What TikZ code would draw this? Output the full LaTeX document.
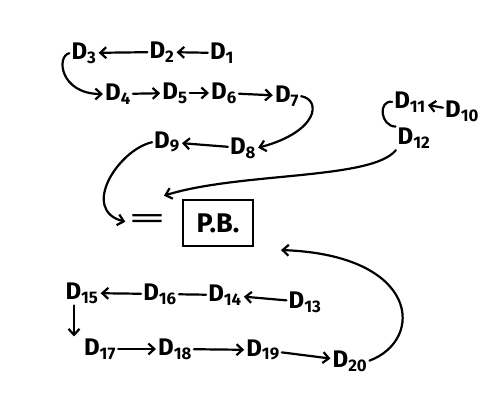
\documentclass[tikz,border=0pt]{standalone}
\usepackage{fontspec}
\setmainfont{Fira Sans}
\usetikzlibrary{arrows.meta}
\newcommand\DD[1]{D\textsubscript{#1}}
\begin{document}
\begin{tikzpicture}[x=1pt,y=-1pt,
 lab/.style={font=\fontsize{24}{24}\selectfont\bfseries, inner sep=1pt},
 arr/.style={line width=2.2pt, line cap=round, shorten >=1pt, shorten <=1pt, -{Straight Barb[length=6pt,width=11pt]}},
 ln/.style={line width=2.2pt, line cap=round, shorten >=1pt, shorten <=1pt},
 box/.style={draw, line width=2.6pt, minimum width=70pt, minimum height=46pt, inner sep=2pt, font=\fontsize{27}{27}\selectfont\bfseries}]
\useasboundingbox (0,0) rectangle (482,406);
% top group
\node[lab] (d3) at (84,53) {\DD{3}};
\node[lab] (d2) at (162,52) {\DD{2}};
\node[lab] (d1) at (222,53) {\DD{1}};
\node[lab] (d4) at (118,94) {\DD{4}};
\node[lab] (d5) at (175,93) {\DD{5}};
\node[lab] (d6) at (224,93) {\DD{6}};
\node[lab] (d7) at (287,96) {\DD{7}};
\node[lab] (d9) at (167,142) {\DD{9}};
\node[lab] (d8) at (243,148) {\DD{8}};
% right group
\node[lab] (d11) at (410,102) {\DD{11}};
\node[lab] (d10) at (462,111) {\DD{10}};
\node[lab] (d12) at (414,138) {\DD{12}};
% centre
\node[font=\fontsize{30}{30}\selectfont, inner sep=1pt] (eq) at (147,222) {\scalebox{2.6}[1]{=}};
\node[box] (pb) at (218,223) {P.B.};
\coordinate (t1) at (163,196);
\coordinate (t2) at (280,250);
% bottom group
\node[lab] (d15) at (82,293) {\DD{15}};
\node[lab] (d16) at (160,294) {\DD{16}};
\node[lab] (d14) at (225,295) {\DD{14}};
\node[lab] (d13) at (305,302) {\DD{13}};
\node[lab] (d17) at (100,349) {\DD{17}};
\node[lab] (d18) at (175,349) {\DD{18}};
\node[lab] (d19) at (263,350) {\DD{19}};
\node[lab] (d20) at (350,361) {\DD{20}};
% connectors top
\draw[arr] (d1) -- (d2);
\draw[arr] (d2) -- (d3);
\draw[arr] (d3.west) .. controls (56,56) and (60,94) .. (d4.west);
\draw[arr] (d4) -- (d5);
\draw[arr] (d5) -- (d6);
\draw[arr] (d6) -- (d7);
\draw[arr] (d7.east) .. controls (322,100) and (318,132) .. (d8.east);
\draw[arr] (d8) -- (d9);
\draw[arr] (d9.west) .. controls (118,150) and (80,210) .. (eq.west);
% right
\draw[arr] (d10) -- (d11);
\draw[ln] (d11.west) .. controls (378,100) and (380,126) .. (d12.north west);
\draw[arr] (d12.south west) .. controls (372,180) and (240,172) .. (t1);
% bottom
\draw[arr] (d16) -- (d15);
\draw[ln] (d16) -- (d14);
\draw[arr] (d13) -- (d14);
\draw[arr] ([xshift=-8pt]d15.south) -- ([xshift=-8pt]d15.south |- d17.north);
\draw[arr] (d17) -- (d18);
\draw[arr] (d18) -- (d19);
\draw[arr] (d19) -- (d20);
\draw[arr] (d20.east) .. controls (425,340) and (420,255) .. (t2);
\end{tikzpicture}
\end{document}
